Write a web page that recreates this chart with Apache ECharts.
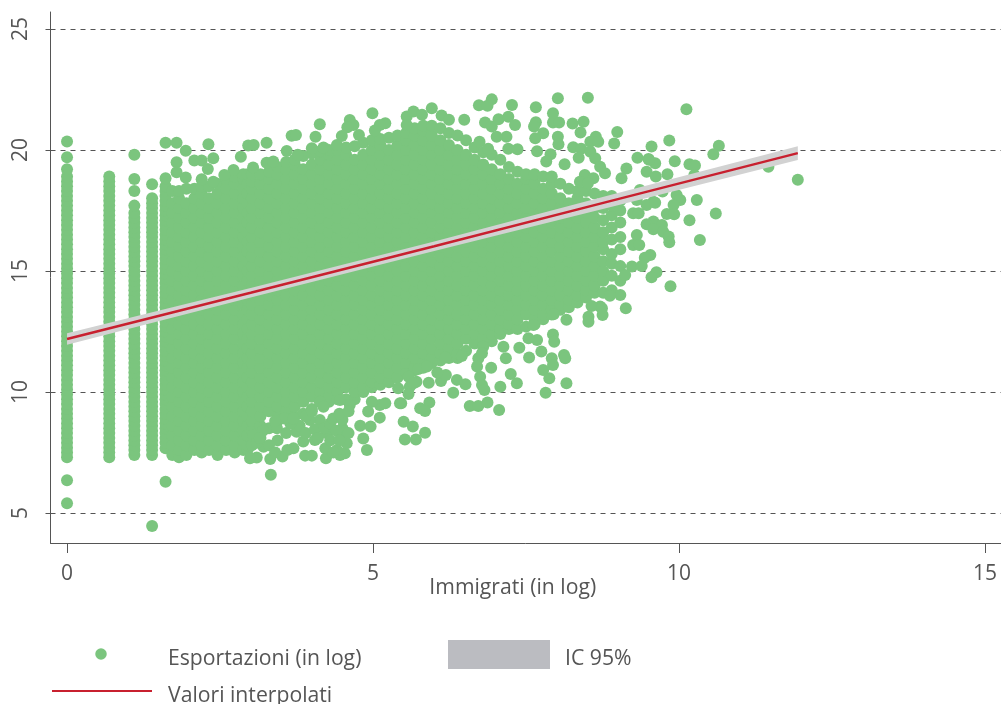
<!DOCTYPE html>
<html><head><meta charset="utf-8">
<style>html,body{margin:0;padding:0;background:#fff;overflow:hidden}#c{width:1001px;height:704px}</style>
<script src="https://cdn.jsdelivr.net/npm/echarts@6/dist/echarts.min.js"></script>
</head><body><div id="c"></div>
<script>
const xTicks=[0,5,10,15];
const yTicks=[5,10,15,20,25];
// Fitted line and its 95% band.
const fitX=[0,3,6,9,11.94];
const fitY=[12.19,14.1,16.02,17.97,19.87];
const ciLow=[11.95,13.9,15.82,17.72,19.59];
const ciHigh=[12.43,14.3,16.22,18.22,20.15];
// Vertical strips at the lowest discrete x values.
const stripX=[0,0.69,1.1,1.39];
const stripY=[
[5.4,6.35,7.3,7.5,7.7,7.9,8.1,8.3,8.5,8.7,8.9,9.1,9.3,9.5,9.7,9.9,10.1,10.3,10.5,10.7,10.9,11.1,11.3,11.5,11.7,11.9,12.1,12.3,12.5,12.7,12.9,13.1,13.3,13.5,13.7,13.9,14.1,14.3,14.5,14.7,14.9,15.1,15.3,15.5,15.7,15.9,16.1,16.3,16.5,16.7,16.9,17.1,17.3,17.5,17.7,17.9,18.1,18.3,18.5,18.7,18.9,19.2,19.7,20.35],
[7.3,7.5,7.7,7.9,8.1,8.3,8.5,8.7,8.9,9.1,9.3,9.5,9.7,9.9,10.1,10.3,10.5,10.7,10.9,11.1,11.3,11.5,11.7,11.9,12.1,12.3,12.5,12.7,12.9,13.1,13.3,13.5,13.7,13.9,14.1,14.3,14.5,14.7,14.9,15.1,15.3,15.5,15.7,15.9,16.1,16.3,16.5,16.7,16.9,17.1,17.3,17.5,17.7,17.9,18.1,18.3,18.5,18.7,18.9],
[7.4,7.6,7.8,8,8.2,8.4,8.6,8.8,9,9.2,9.4,9.6,9.8,10,10.2,10.4,10.6,10.8,11,11.2,11.4,11.6,11.8,12,12.2,12.4,12.6,12.8,13,13.2,13.4,13.6,13.8,14,14.2,14.4,14.6,14.8,15,15.2,15.4,15.6,15.8,16,16.2,16.4,16.6,16.8,17,17.2,17.4,17.7,18.3,18.8,19.8],
[4.46,7.4,7.6,7.8,8,8.2,8.4,8.6,8.8,9,9.2,9.4,9.6,9.8,10,10.2,10.4,10.6,10.8,11,11.2,11.4,11.6,11.8,12,12.2,12.4,12.6,12.8,13,13.2,13.4,13.6,13.8,14,14.2,14.4,14.6,14.8,15,15.2,15.4,15.6,15.8,16,16.2,16.4,16.6,16.8,17,17.2,17.4,17.6,17.8,18,18.58]
];
// Solid mass: individual points cannot be told apart here, so these points are
// estimates that reproduce the outline of the cloud.
const massX=[1.61,1.72,1.83,1.95,2.08,2.2,2.32,2.46,2.6,2.74,2.88,2.95,3.02,3.16,3.3,3.44,3.58,3.72,3.86,4,4.14,4.28,4.42,4.56,4.7,4.84,4.98,5.12,5.26,5.4,5.54,5.68,5.82,5.96,6.1,6.24,6.38,6.52,6.66,6.8,6.94,7.08,7.22,7.36,7.5,7.64,7.78,7.92,8.06,8.2,8.34,8.48,8.62,8.76,8.9,9.04];
const massY=[
[7.67,7.9,8.1,8.3,8.5,8.7,8.9,9.1,9.3,9.5,9.7,9.9,10.1,10.3,10.5,10.7,10.9,11.1,11.3,11.5,11.7,11.9,12.1,12.3,12.5,12.7,12.9,13.1,13.3,13.5,13.7,13.9,14.1,14.3,14.5,14.7,14.9,15.1,15.3,15.5,15.7,15.9,16.1,16.3,16.5,16.7,16.9,17.1,17.3,17.5,17.7,17.9,18.1,18.3,18.5,18.83],
[7.4,7.8,8.2,8.6,9,9.4,9.8,10.2,10.6,11,11.4,11.8,12.2,12.6,13,13.4,13.8,14.2,14.6,15,15.4,15.8,16.2,16.6,17,17.4,17.8,18.3],
[7.3,7.6,8,8.4,8.8,9.2,9.6,10,10.4,10.8,11.2,11.6,12,12.4,12.8,13.2,13.6,14,14.4,14.8,15.2,15.6,16,16.4,16.8,17.2,17.6,18,18.3],
[7.4,7.8,8.2,8.6,9,9.4,9.8,10.2,10.6,11,11.4,11.8,12.2,12.6,13,13.4,13.8,14.2,14.6,15,15.4,15.8,16.2,16.6,17,17.4,17.8,18.4],
[7.6,8,8.4,8.8,9.2,9.6,10,10.4,10.8,11.2,11.6,12,12.4,12.8,13.2,13.6,14,14.4,14.8,15.2,15.6,16,16.4,16.8,17.2,17.6,18,18.4],
[7.5,7.8,8.2,8.6,9,9.4,9.8,10.2,10.6,11,11.4,11.8,12.2,12.6,13,13.4,13.8,14.2,14.6,15,15.4,15.8,16.2,16.6,17,17.4,17.8,18.2,18.5],
[7.6,8,8.4,8.8,9.2,9.6,10,10.4,10.8,11.2,11.6,12,12.4,12.8,13.2,13.6,14,14.4,14.8,15.2,15.6,16,16.4,16.8,17.2,17.6,18,18.5],
[7.4,7.8,8.2,8.6,9,9.4,9.8,10.2,10.6,11,11.4,11.8,12.2,12.6,13,13.4,13.8,14.2,14.6,15,15.4,15.8,16.2,16.6,17,17.4,17.8,18.2,18.6],
[7.6,8,8.4,8.8,9.2,9.6,10,10.4,10.8,11.2,11.6,12,12.4,12.8,13.2,13.6,14,14.4,14.8,15.2,15.6,16,16.4,16.8,17.2,17.6,18,18.4,18.8],
[7.5,7.8,8.2,8.6,9,9.4,9.8,10.2,10.6,11,11.4,11.8,12.2,12.6,13,13.4,13.8,14.2,14.6,15,15.4,15.8,16.2,16.6,17,17.4,17.8,18.2,18.6,18.9],
[7.6,8,8.4,8.8,9.2,9.6,10,10.4,10.8,11.2,11.6,12,12.4,12.8,13.2,13.6,14,14.4,14.8,15.2,15.6,16,16.4,16.8,17.2,17.6,18,18.4,18.8,19],
[7.6,7.8,8.2,8.6,9,9.4,9.8,10.2,10.6,11,11.4,11.8,12.2,12.6,13,13.4,13.8,14.2,14.6,15,15.4,15.8,16.2,16.6,17,17.4,17.8,18.2,18.6,19],
[7.8,8.4,8.8,9.2,9.6,10,10.4,10.8,11.2,11.6,12,12.4,12.8,13.2,13.6,14,14.4,14.8,15.2,15.6,16,16.4,16.8,17.2,17.6,18,18.4,18.7,19],
[8.1,8.6,9,9.4,9.8,10.2,10.6,11,11.4,11.8,12.2,12.6,13,13.4,13.8,14.2,14.6,15,15.4,15.8,16.2,16.6,17,17.4,17.8,18.2,18.6,19],
[8.5,9.2,9.6,10,10.4,10.8,11.2,11.6,12,12.4,12.8,13.2,13.6,14,14.4,14.8,15.2,15.6,16,16.4,16.8,17.2,17.6,18,18.4,18.8,19.1],
[8.8,9,9.4,9.8,10.2,10.6,11,11.4,11.8,12.2,12.6,13,13.4,13.8,14.2,14.6,15,15.4,15.8,16.2,16.6,17,17.4,17.8,18.2,18.6,19,19.3],
[9,9.2,9.6,10,10.4,10.8,11.2,11.6,12,12.4,12.8,13.2,13.6,14,14.4,14.8,15.2,15.6,16,16.4,16.8,17.2,17.6,18,18.4,18.8,19.2,19.5],
[9,9.4,9.8,10.2,10.6,11,11.4,11.8,12.2,12.6,13,13.4,13.8,14.2,14.6,15,15.4,15.8,16.2,16.6,17,17.4,17.8,18.2,18.6,19,19.4,19.6],
[9.1,9.6,10,10.4,10.8,11.2,11.6,12,12.4,12.8,13.2,13.6,14,14.4,14.8,15.2,15.6,16,16.4,16.8,17.2,17.6,18,18.4,18.8,19.2,19.75],
[9.3,9.8,10.2,10.6,11,11.4,11.8,12.2,12.6,13,13.4,13.8,14.2,14.6,15,15.4,15.8,16.2,16.6,17,17.4,17.8,18.2,18.6,19,19.4,19.85],
[9.6,10,10.4,10.8,11.2,11.6,12,12.4,12.8,13.2,13.6,14,14.4,14.8,15.2,15.6,16,16.4,16.8,17.2,17.6,18,18.4,18.8,19.2,19.6,19.95],
[9.6,9.8,10.2,10.6,11,11.4,11.8,12.2,12.6,13,13.4,13.8,14.2,14.6,15,15.4,15.8,16.2,16.6,17,17.4,17.8,18.2,18.6,19,19.4,19.8,20],
[9.7,10,10.4,10.8,11.2,11.6,12,12.4,12.8,13.2,13.6,14,14.4,14.8,15.2,15.6,16,16.4,16.8,17.2,17.6,18,18.4,18.8,19.2,19.6,20],
[9.7,10.2,10.6,11,11.4,11.8,12.2,12.6,13,13.4,13.8,14.2,14.6,15,15.4,15.8,16.2,16.6,17,17.4,17.8,18.2,18.6,19,19.4,19.8,20.1],
[9.7,10,10.4,10.8,11.2,11.6,12,12.4,12.8,13.2,13.6,14,14.4,14.8,15.2,15.6,16,16.4,16.8,17.2,17.6,18,18.4,18.8,19.2,19.6,20.15],
[10,10.2,10.6,11,11.4,11.8,12.2,12.6,13,13.4,13.8,14.2,14.6,15,15.4,15.8,16.2,16.6,17,17.4,17.8,18.2,18.6,19,19.4,19.8,20.3],
[10.2,10.4,10.8,11.2,11.6,12,12.4,12.8,13.2,13.6,14,14.4,14.8,15.2,15.6,16,16.4,16.8,17.2,17.6,18,18.4,18.8,19.2,19.6,20,20.4],
[10.3,10.6,11,11.4,11.8,12.2,12.6,13,13.4,13.8,14.2,14.6,15,15.4,15.8,16.2,16.6,17,17.4,17.8,18.2,18.6,19,19.4,19.8,20.2,20.45],
[10.4,10.8,11.2,11.6,12,12.4,12.8,13.2,13.6,14,14.4,14.8,15.2,15.6,16,16.4,16.8,17.2,17.6,18,18.4,18.8,19.2,19.6,20,20.5],
[10.6,11,11.4,11.8,12.2,12.6,13,13.4,13.8,14.2,14.6,15,15.4,15.8,16.2,16.6,17,17.4,17.8,18.2,18.6,19,19.4,19.8,20.2,20.6],
[10.8,11.2,11.6,12,12.4,12.8,13.2,13.6,14,14.4,14.8,15.2,15.6,16,16.4,16.8,17.2,17.6,18,18.4,18.8,19.2,19.6,20,20.4,20.7],
[10.9,11,11.4,11.8,12.2,12.6,13,13.4,13.8,14.2,14.6,15,15.4,15.8,16.2,16.6,17,17.4,17.8,18.2,18.6,19,19.4,19.8,20.2,20.6,20.9],
[11,11.2,11.6,12,12.4,12.8,13.2,13.6,14,14.4,14.8,15.2,15.6,16,16.4,16.8,17.2,17.6,18,18.4,18.8,19.2,19.6,20,20.4,20.8,21],
[11.2,11.4,11.8,12.2,12.6,13,13.4,13.8,14.2,14.6,15,15.4,15.8,16.2,16.6,17,17.4,17.8,18.2,18.6,19,19.4,19.8,20.2,20.6,21],
[11.3,11.6,12,12.4,12.8,13.2,13.6,14,14.4,14.8,15.2,15.6,16,16.4,16.8,17.2,17.6,18,18.4,18.8,19.2,19.6,20,20.4,20.9],
[11.4,11.8,12.2,12.6,13,13.4,13.8,14.2,14.6,15,15.4,15.8,16.2,16.6,17,17.4,17.8,18.2,18.6,19,19.4,19.8,20.2,20.7],
[11.4,11.6,12,12.4,12.8,13.2,13.6,14,14.4,14.8,15.2,15.6,16,16.4,16.8,17.2,17.6,18,18.4,18.8,19.2,19.6,20,20.6],
[11.7,12.2,12.6,13,13.4,13.8,14.2,14.6,15,15.4,15.8,16.2,16.6,17,17.4,17.8,18.2,18.6,19,19.4,19.8,20.4],
[12,12.4,12.8,13.2,13.6,14,14.4,14.8,15.2,15.6,16,16.4,16.8,17.2,17.6,18,18.4,18.8,19.2,19.6,20.1],
[12,12.2,12.6,13,13.4,13.8,14.2,14.6,15,15.4,15.8,16.2,16.6,17,17.4,17.8,18.2,18.6,19,19.4,19.9],
[12.1,12.4,12.8,13.2,13.6,14,14.4,14.8,15.2,15.6,16,16.4,16.8,17.2,17.6,18,18.4,18.8,19.2,19.8],
[12.4,12.6,13,13.4,13.8,14.2,14.6,15,15.4,15.8,16.2,16.6,17,17.4,17.8,18.2,18.6,19,19.6],
[12.6,12.8,13.2,13.6,14,14.4,14.8,15.2,15.6,16,16.4,16.8,17.2,17.6,18,18.4,18.8,19.3],
[12.6,13,13.4,13.8,14.2,14.6,15,15.4,15.8,16.2,16.6,17,17.4,17.8,18.2,18.6,19.1],
[12.7,13.2,13.6,14,14.4,14.8,15.2,15.6,16,16.4,16.8,17.2,17.6,18,18.4,18.8,19],
[12.8,13,13.4,13.8,14.2,14.6,15,15.4,15.8,16.2,16.6,17,17.4,17.8,18.2,18.6,19],
[13,13.2,13.6,14,14.4,14.8,15.2,15.6,16,16.4,16.8,17.2,17.6,18,18.4,18.9],
[13.2,13.4,13.8,14.2,14.6,15,15.4,15.8,16.2,16.6,17,17.4,17.8,18.2,18.6,18.9],
[13.4,13.6,14,14.4,14.8,15.2,15.6,16,16.4,16.8,17.2,17.6,18,18.6],
[13.5,13.8,14.2,14.6,15,15.4,15.8,16.2,16.6,17,17.4,17.8,18.4],
[13.7,14,14.4,14.8,15.2,15.6,16,16.4,16.8,17.2,17.6,18,18.3],
[13.9,14.2,14.6,15,15.4,15.8,16.2,16.6,17,17.4,17.8,18.3],
[14.1,14.4,14.8,15.2,15.6,16,16.4,16.8,17.2,17.6,18.2],
[14.1,14.6,15,15.4,15.9,16.2,16.6,17.1,17.6,18.1],
[14.2,14.8,15.3,15.7,16.3,16.8,17.3,17.7,18.1],
[14.6,15.2,15.9,16.4,17,17.5,17.9]
];
// Separate dots around the edge of the cloud.
const edgeDots=[[8.02,22.14],[8.51,22.16],[10.12,21.68],[6.94,22.09],[6.73,21.85],[6.87,21.83],[7.27,21.86],[7.66,21.76],[7.94,21.52],[5.96,21.72],[6.12,21.42],[6.24,21.25],[6.49,21.25],[6.83,21.13],[7.05,21.27],[7.21,21.37],[7.32,21.03],[6.94,20.97],[7.66,21.14],[7.63,20.97],[7.94,21.13],[8.04,21.13],[8.26,21.09],[8.44,21.17],[8.39,20.72],[8.99,20.74],[7.78,20.69],[7.65,20.48],[8.02,20.55],[8.03,20.24],[8.64,20.55],[8.55,20.34],[8.68,20.34],[8.94,20.27],[9.84,20.39],[9.55,20.14],[7.18,20.55],[7.02,20.55],[7.21,20.05],[7.36,20.03],[6.74,20.34],[6.88,20.05],[7.68,19.95],[7.9,19.82],[7.83,19.52],[8.13,19.41],[8.27,20.11],[8.4,20.05],[8.36,19.68],[8.55,19.93],[8.63,19.66],[8.71,19.31],[8.79,19.04],[9.14,19.23],[9.32,19.68],[9.5,19.63],[9.61,19.45],[9.93,19.53],[10.17,19.41],[10.26,19.36],[9.47,19.1],[9.62,18.9],[9.81,19],[8.46,18.97],[8.6,18.83],[8.38,18.69],[8.51,18.62],[9.06,18.83],[9.96,18.14],[10.02,17.93],[10.29,17.93],[9.73,18.28],[9.36,18.35],[9.58,17.86],[9.91,17.73],[9.31,17.93],
[10.65,20.17],[10.56,19.82],[9.51,19.6],[11.46,19.31],[11.94,18.77],[10.25,18.97],[10.6,17.37],[10.17,17.1],[10.34,16.28],[9.8,17.35],[9.92,17.34],[9.47,17.73],[9.61,17.82],[9.25,17.38],[9.34,17.38],[9.58,17.04],[9.47,16.93],[9.72,16.9],[9.58,16.72],[9.74,16.62],[9.83,16.42],[9.84,16.19],[9.31,16.49],[9.25,16.07],[9.35,16.07],[9.53,15.66],[9.44,15.55],[9.23,15.18],[9.39,15.21],[9.12,14.83],[9.63,14.95],[9.55,14.74],[9.86,14.37],[9.04,14.01],[8.87,13.98],[9.13,13.46],[8.71,13.53],
[8.57,13.55],[8.74,13.46],[8.75,13.18],[8.52,13.11],[8.52,12.9],[8.16,12.98],[7.95,13.21],[7.62,12.77],[7.94,12.38],[7.96,12.08],[7.68,12.15],[7.54,12.22],[7.75,11.67],[7.39,11.83],[7.55,11.42],[8.12,11.53],[8.14,11.39],[7.92,11.39],[7.94,11.11],[7.78,10.91],[7.88,10.57],[8.16,10.36],[7.82,9.97],[7.35,10.36],[7.25,10.74],[7.08,10.22],[6.93,11],[7.17,11.39],[7.13,11.87],[6.75,10.63],[6.78,10.29],[6.82,10.08],[6.72,11.39],[6.7,11.05],[6.8,11.87],[6.78,11.6],[7.06,9.26],[6.58,9.42],[6.72,9.42],[6.87,9.57],[6.31,9.97],[6.51,10.32],[6.37,10.5],[6.11,10.45],[6.19,10.7],[6.05,10.8],[5.91,10.38],[5.71,10.42],[5.6,10.22],[5.74,10.95],[5.88,11.05],[5.58,10.63],[5.92,9.57],[5.77,9.33],[5.85,9.21],[5.58,9.92],[5.46,9.53],[5.5,8.77],[5.65,8.57],[5.85,8.32],[6.18,11.42],[6.45,11.49],
[1.61,6.29],[3.33,6.58],[4.9,7.6],[4.84,8.08],[4.79,8.6],[4.96,8.57],[5.11,8.94],[5.52,8.04],[5.7,8.04],[4.92,9.19],[5.11,9.46],[5.44,9.53],[4.98,9.6],[5.2,9.53],[5.66,10.36],[5.41,10.15],[4.13,9.6],[4.54,7.47],[4.46,7.4],[4.23,7.26],[3.89,7.37],[4,7.37],[3.52,7.33],[3.32,7.23],[3.1,7.29],[2.99,7.26],[4.5,8.5],[4.52,8.15],[4.57,7.88],[4.41,7.6],[4.25,8.29],[4.22,7.67],[4.05,8.02],[3.86,7.95],[3.7,7.67],[3.21,7.74],[3.04,8.22],[3.43,8.5],[3.75,8.36],[4.13,8.84],[3.97,8.84],[4.19,9.39],[4.62,9.46],[4.46,9.67],
[3.3,7.8],[3.44,8],[3.58,8.3],[3.4,7.5],[3.6,7.6],[3.8,8.6],[3.9,8.3],[4.05,8.45],[4.1,8.1],[4.2,8.5],[4.3,8.7],[4.3,8],[4.35,7.5],[4.4,8.4],[4.45,8],[4.35,8.9],[4.5,8.85],[4.6,8.3],[4.45,9.1],[4.6,9.2],[3.65,8.7],[3.55,8.9],[3.4,8.8],[3.2,8.4],[3.1,7.9],[3.9,9],[4,9.2],[3.7,8.9],[3.15,8.1],
[1.61,20.3],[1.79,20.3],[1.94,19.97],[2.31,20.24],[2.39,19.66],[2.08,19.56],[2.2,19.56],[2.3,19.21],[1.79,19.49],[1.79,19.08],[1.94,18.86],[2.84,19.72],[2.96,20.18],[3.05,20.2],[3.26,20.3],[3.59,19.96],[3.67,20.59],[3.74,20.62],[4.06,20.55],[4.13,21.06],[4.62,21.24],[4.68,21.03],[4.58,20.94],[4.99,21.52],[4.49,20.58],[4.77,20.62],[5.2,21.1],[5.11,21.03],[5.03,20.8],[5.55,21.38],[5.66,21.59],[5.8,21.45],[5.55,21.03],[4.41,20.2],[4.19,20.1],[4,20.07],[3.77,19.8],[3.26,19.47],[3.37,19.52],[3.04,19.28],[2.72,19.17],[2.57,18.97],[2.2,18.79],[2.39,18.69]];

const GREEN='#7bc57e', RED='#c8202f', INK='#555555';
const points=[];
stripX.forEach((x,i)=>stripY[i].forEach(y=>points.push([x,y])));
massX.forEach((x,i)=>massY[i].forEach(y=>points.push([x,y])));
edgeDots.forEach(p=>points.push(p));

const FONT='"Open Sans"';
const chart=echarts.init(document.getElementById('c'),null,{renderer:'canvas'});
const lt=(l,t,txt)=>({type:'text',left:l,top:t,style:{text:txt,fill:INK,font:'21.2px '+FONT}});
chart.setOption({
  animation:false,
  textStyle:{fontFamily:FONT},
  grid:{left:50.5,top:12,width:950.5,height:531,containLabel:false},
  xAxis:{type:'value',min:-0.27,max:15.26,
    name:'Immigrati (in log)',nameLocation:'middle',nameGap:34,nameMoveOverlap:false,
    nameTextStyle:{color:INK,fontSize:21.2,fontFamily:FONT,padding:[0,26,0,0]},
    axisLine:{show:true,onZero:false,lineStyle:{color:INK,width:1}},
    axisTick:{show:true,length:10,customValues:xTicks,lineStyle:{color:INK}},
    axisLabel:{customValues:xTicks,fontSize:21,margin:21,fontFamily:FONT,
      color:v=>v===15?'#222222':INK},
    splitLine:{show:false}},
  yAxis:{type:'value',min:3.76,max:25.7,
    axisLine:{show:true,onZero:false,lineStyle:{color:INK,width:1}},
    axisTick:{show:true,length:10,customValues:yTicks,lineStyle:{color:INK,type:[5,5]}},
    axisLabel:{customValues:yTicks,rotate:90,fontSize:21,margin:19,color:INK,fontFamily:FONT},
    splitLine:{show:true,customValues:yTicks,lineStyle:{color:INK,width:1,type:[5,5]}}},
  series:[
    {type:'scatter',data:points,symbol:'circle',symbolSize:12,itemStyle:{color:GREEN,opacity:1},
     silent:true,large:false,progressive:0,z:3},
    {type:'custom',data:fitX.map((x,i)=>[x,ciLow[i],ciHigh[i]]),silent:true,z:4,
     encode:{x:0,y:[1,2]},
     renderItem:(params,api)=>{
       if(params.dataIndex!==0) return null;
       const upper=fitX.map((x,i)=>api.coord([x,ciHigh[i]]));
       const lower=fitX.map((x,i)=>api.coord([x,ciLow[i]])).reverse();
       return {type:'polygon',shape:{points:upper.concat(lower)},style:{fill:'#d2d2d2'}};
     }},
    {type:'line',data:fitX.map((x,i)=>[x,fitY[i]]),showSymbol:false,lineStyle:{color:RED,width:2.4},silent:true,z:5}
  ],
  graphic:[
    {type:'circle',shape:{cx:101,cy:654,r:5.75},style:{fill:GREEN}},
    lt(168,648,'Esportazioni (in log)'),
    {type:'rect',shape:{x:448,y:640,width:102,height:29},style:{fill:'#bbbcc1'}},
    lt(565,648,'IC 95%'),
    {type:'line',shape:{x1:52,y1:691,x2:152,y2:691},style:{stroke:RED,lineWidth:2}},
    lt(168,685,'Valori interpolati')
  ]
});
</script></body></html>
